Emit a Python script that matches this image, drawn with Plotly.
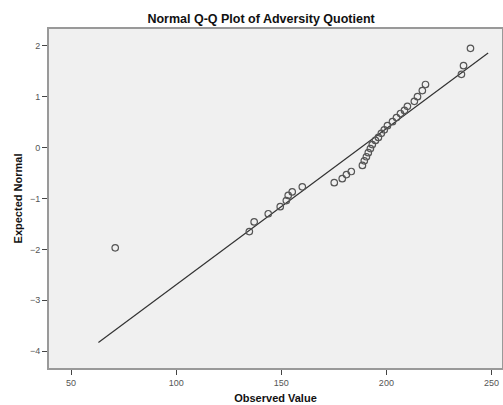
import plotly.graph_objects as go

observed = [71, 134.8, 137.1, 143.8, 149.5, 152.4, 153.3, 155.2, 160, 175.2, 179, 181, 183.3,
            188.6, 189.5, 190.5, 191.4, 192.4, 193.3, 194.8, 196.2, 197.6, 199, 200.5, 202.9,
            204.8, 206.7, 208.6, 210, 213.3, 214.8, 217.1, 218.6, 235.7, 236.7, 240]
expected = [-1.97, -1.65, -1.46, -1.30, -1.16, -1.04, -0.94, -0.87, -0.77, -0.69, -0.61, -0.53, -0.47,
            -0.35, -0.26, -0.18, -0.10, -0.02, 0.06, 0.14, 0.20, 0.28, 0.35, 0.43, 0.51,
            0.59, 0.67, 0.73, 0.81, 0.91, 1.00, 1.12, 1.24, 1.44, 1.61, 1.95]

# Reference line end points
line_x = [63, 248.4]
line_y = [-3.83, 1.86]

x_ticks = [50, 100, 150, 200, 250]
y_ticks = [2, 1, 0, -1, -2, -3, -4]

font_family = "Liberation Sans, Arial, sans-serif"

fig = go.Figure()
fig.add_trace(go.Scatter(x=line_x, y=line_y, mode="lines",
                         line=dict(color="#333333", width=1.2), showlegend=False, hoverinfo="skip"))
fig.add_trace(go.Scatter(x=observed, y=expected, mode="markers",
                         marker=dict(symbol="circle-open", size=6.5, color="#555555",
                                     line=dict(width=1.2, color="#555555")),
                         showlegend=False))

fig.update_layout(
    width=503, height=405,
    margin=dict(l=49, r=1, t=29, b=37, autoexpand=False),
    paper_bgcolor="white",
    plot_bgcolor="#f0f0f0",
    font=dict(family=font_family, size=9, color="#555555"),
    title=dict(text="<b>Normal Q-Q Plot of Adversity Quotient</b>",
               x=0.519, xanchor="center", y=0.953, yanchor="middle",
               font=dict(family=font_family, size=12.5, color="#111111")),
    xaxis=dict(range=[39.5, 255], tickvals=x_ticks, ticks="outside", ticklen=5,
               tickcolor="#444444", showgrid=False, zeroline=False, automargin=False,
               showline=True, linecolor="#999999", linewidth=2, mirror=True,
               title=dict(text="<b>Observed Value</b>", standoff=8,
                          font=dict(family=font_family, size=11, color="#111111")),
               tickfont=dict(size=9, color="#555555")),
    yaxis=dict(range=[-4.33, 2.33], tickvals=y_ticks, ticks="outside", ticklen=5,
               tickcolor="#444444", showgrid=False, zeroline=False, automargin=False,
               showline=True, linecolor="#999999", linewidth=2, mirror=True,
               title=dict(text="<b>Expected Normal</b>", standoff=5,
                          font=dict(family=font_family, size=11, color="#111111")),
               tickfont=dict(size=9, color="#555555")),
)

fig.write_html("out.html", config={"displayModeBar": False},
               post_script="document.body.style.margin='0';document.body.style.padding='0';")
